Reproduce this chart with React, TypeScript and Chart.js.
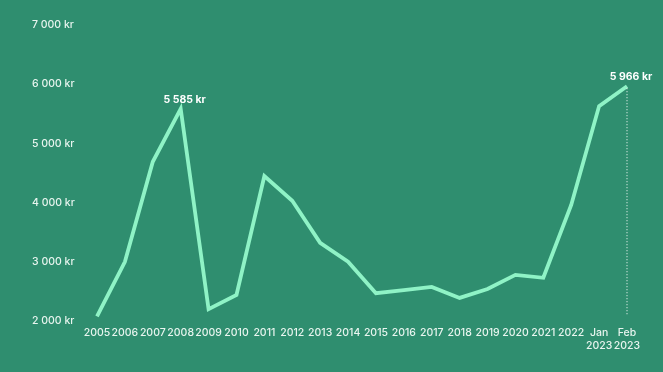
import React, { useEffect, useRef } from "react";
import { Chart, registerables } from "chart.js";

Chart.register(...registerables);

const categories: (string | string[])[] = [
  "2005", "2006", "2007", "2008", "2009", "2010", "2011", "2012", "2013", "2014",
  "2015", "2016", "2017", "2018", "2019", "2020", "2021", "2022",
  ["Jan", "2023"], ["Feb", "2023"],
];
const prices: number[] = [
  2080, 3000, 4690, 5585, 2200, 2440, 4450, 4030, 3320, 3000,
  2470, 2520, 2575, 2390, 2540, 2780, 2730, 3960, 5630, 5966,
];
const highlightIdx: number[] = [3, 19];
const highlightLabels: string[] = ["5 585 kr", "5 966 kr"];
const yTicks: number[] = [2000, 3000, 4000, 5000, 6000, 7000];

const BG = "#2f8e6f";
const LINE = "#8ff3c6";
const TEXT = "#e8f5ef";
const FONT = "Inter, 'Noto Sans', sans-serif";

const fmt = (v: number) => {
  const s = Math.round(v).toString();
  return s.replace(/\B(?=(\d{3})+(?!\d))/g, " ") + " kr";
};

const annotPlugin = {
  id: "annot",
  afterDatasetsDraw(chart: any) {
    const { ctx, chartArea } = chart;
    const meta = chart.getDatasetMeta(0);
    ctx.save();
    const last = meta.data[prices.length - 1];
    ctx.strokeStyle = "#ffffff";
    ctx.lineWidth = 1;
    ctx.setLineDash([1, 2]);
    ctx.beginPath();
    ctx.moveTo(last.x, last.y + 2);
    ctx.lineTo(last.x, chartArea.bottom - 6);
    ctx.stroke();
    ctx.setLineDash([]);
    ctx.fillStyle = "#ffffff";
    ctx.font = `bold 10.5px ${FONT}`;
    ctx.textAlign = "center";
    ctx.textBaseline = "bottom";
    highlightIdx.forEach((idx, i) => {
      const p = meta.data[idx];
      ctx.fillText(highlightLabels[i], p.x + 4, p.y - 4);
    });
    ctx.restore();
  },
};

export default function App() {
  const ref = useRef<HTMLCanvasElement>(null);
  useEffect(() => {
    if (!ref.current) return;
    const chart = new Chart(ref.current, {
      type: "line",
      data: {
        labels: categories,
        datasets: [
          {
            data: prices,
            borderColor: LINE,
            borderWidth: 3.8,
            pointRadius: 0,
            tension: 0,
            fill: false,
          },
        ],
      },
      options: {
        animation: false,
        responsive: false,
        maintainAspectRatio: false,
        layout: { padding: { left: 32, right: 36, top: 25, bottom: 11 } },
        plugins: { legend: { display: false }, tooltip: { enabled: false } },
        scales: {
          x: {
            grid: { display: false },
            border: { display: false },
            afterFit: (axis: any) => {
              axis.height = 40;
            },
            ticks: {
              color: TEXT,
              font: { family: FONT, size: 10.5, weight: 500 },
              maxRotation: 0,
              autoSkip: false,
              padding: -2,
            },
          },
          y: {
            min: 2000,
            max: 7000,
            afterBuildTicks: (axis: any) => {
              axis.ticks = yTicks.map((v) => ({ value: v }));
            },
            afterFit: (axis: any) => {
              axis.width = 65;
            },
            grid: { display: false },
            border: { display: false },
            ticks: {
              color: TEXT,
              font: { family: FONT, size: 10.5, weight: 500 },
              crossAlign: "far",
              callback: (v: any) => fmt(Number(v)),
            },
          },
        },
      },
      plugins: [annotPlugin],
    });
    return () => chart.destroy();
  }, []);
  return (
    <div style={{ position: "fixed", left: 0, top: 0, width: 663, height: 372, background: BG }}>
      <canvas ref={ref} width={663} height={372} style={{ display: "block" }} />
    </div>
  );
}
